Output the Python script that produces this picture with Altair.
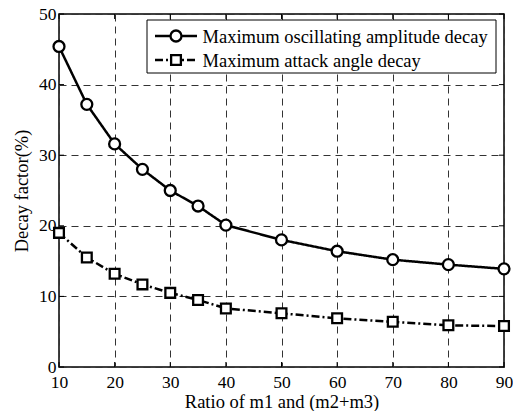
import altair as alt
import pandas as pd

# ---- data ----
ratio = [10, 15, 20, 25, 30, 35, 40, 50, 60, 70, 80, 90]
amp_decay = [45.4, 37.2, 31.6, 28.0, 25.0, 22.8, 20.1, 18.0, 16.4, 15.2, 14.5, 13.9]
angle_decay = [19.0, 15.5, 13.2, 11.7, 10.5, 9.5, 8.3, 7.6, 6.9, 6.4, 5.9, 5.8]
series_names = ["Maximum oscillating amplitude decay", "Maximum attack angle decay"]
x_ticks = [10, 20, 30, 40, 50, 60, 70, 80, 90]
y_ticks = [0, 10, 20, 30, 40, 50]

FONT = "Liberation Serif"
W, H = 445, 353

rows = []
for name, vals in zip(series_names, [amp_decay, angle_decay]):
    for r, v in zip(ratio, vals):
        rows.append({"series": name, "ratio": r, "decay": v})
df = pd.DataFrame(rows)

styles = [
    {"dash": [1, 0], "shape": "circle", "size": 120},
    {"dash": [8, 3, 2, 3], "shape": "square", "size": 95},
]

x_enc = alt.X("ratio:Q", scale=alt.Scale(domain=[10, 90], nice=False),
              axis=alt.Axis(values=x_ticks, title="Ratio of m1 and (m2+m3)",
                            titleY=40, titleBaseline="alphabetic",
                            labelPadding=6, labelFlush=False, labelOverlap=False))
y_enc = alt.Y("decay:Q", scale=alt.Scale(domain=[0, 50], nice=False, zero=False),
              axis=alt.Axis(values=y_ticks, title="Decay factor(%)",
                            titleX=-32, titleBaseline="alphabetic",
                            labelPadding=3, labelFlush=False, labelOverlap=False))

layers = []

# inward tick marks on all four sides (MATLAB style)
xt = pd.DataFrame({"ratio": x_ticks})
yt = pd.DataFrame({"decay": y_ticks})
layers.append(alt.Chart(xt).mark_rule(color="black", strokeWidth=1).encode(
    x=x_enc, y=alt.value(0), y2=alt.value(5)))
layers.append(alt.Chart(xt).mark_rule(color="black", strokeWidth=1).encode(
    x=x_enc, y=alt.value(H - 5), y2=alt.value(H)))
layers.append(alt.Chart(yt).mark_rule(color="black", strokeWidth=1).encode(
    y=y_enc, x=alt.value(0), x2=alt.value(5)))
layers.append(alt.Chart(yt).mark_rule(color="black", strokeWidth=1).encode(
    y=y_enc, x=alt.value(W - 5), x2=alt.value(W)))

# series lines and markers
for name, st in zip(series_names, styles):
    base = alt.Chart(df).transform_filter(alt.datum.series == name)
    layers.append(base.mark_line(color="black", strokeWidth=2.5, strokeDash=st["dash"]).encode(
        x=x_enc, y=y_enc))
    layers.append(base.mark_point(shape=st["shape"], size=st["size"], filled=True,
                                  color="white", stroke="black", strokeWidth=2.3,
                                  opacity=1).encode(x=x_enc, y=y_enc))

# legend box
one = pd.DataFrame({"a": [0]})
layers.append(alt.Chart(one).mark_rect(fill="white", stroke="black", strokeWidth=1).encode(
    x=alt.value(88), x2=alt.value(437), y=alt.value(6), y2=alt.value(59)))
row_y = [22, 46]
for name, st, ry in zip(series_names, styles, row_y):
    layers.append(alt.Chart(one).mark_rule(color="black", strokeWidth=2.5,
                                           strokeDash=st["dash"]).encode(
        x=alt.value(96), x2=alt.value(138), y=alt.value(ry)))
    layers.append(alt.Chart(one).mark_point(shape=st["shape"], size=st["size"], filled=True,
                                            color="white", stroke="black", strokeWidth=2.3,
                                            opacity=1).encode(
        x=alt.value(117), y=alt.value(ry)))
    layers.append(alt.Chart(pd.DataFrame({"label": [name]})).mark_text(
        align="left", baseline="alphabetic", font=FONT, fontSize=18.5, color="black").encode(
        text="label:N", x=alt.value(143.5), y=alt.value(ry + 7)))

chart = alt.layer(*layers).properties(
    width=W, height=H,
    autosize=alt.AutoSizeParams(type="none"),
    padding={"left": 51, "top": 6, "right": 9, "bottom": 44},
    background="white",
).configure_view(
    stroke="black", strokeWidth=1.5
).configure_axis(
    labelFont=FONT, titleFont=FONT, labelFontSize=17.5, titleFontSize=18.5,
    labelColor="black", titleColor="black", titleFontWeight="normal",
    ticks=False, domain=False,
    grid=True, gridColor="#333333", gridDash=[7, 5], gridWidth=1, gridOpacity=1,
)

chart.save("out.html", embed_options={"renderer": "svg", "actions": False})
